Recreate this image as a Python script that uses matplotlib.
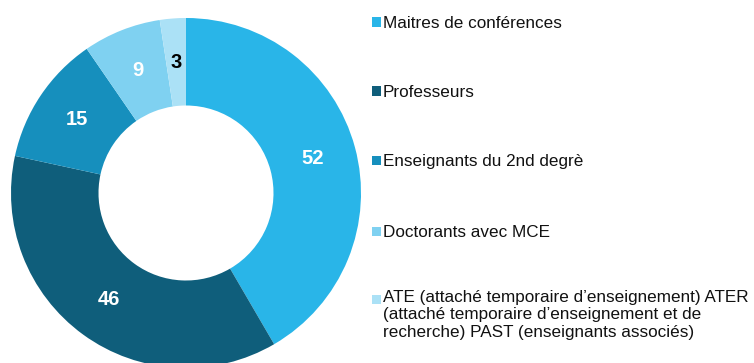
import numpy as np
import matplotlib.pyplot as plt
from matplotlib.patches import Rectangle

plt.rcParams['font.family'] = ['Liberation Sans', 'DejaVu Sans']

categories = [
    "Maitres de conférences",
    "Professeurs",
    "Enseignants du 2nd degrè",
    "Doctorants avec MCE",
    "ATE (attaché temporaire d\u2019enseignement) ATER\n(attaché temporaire d\u2019enseignement et de\nrecherche) PAST (enseignants associés)",
]
values = [52, 46, 15, 9, 3]
colors = ["#29b5e8", "#0f5e7b", "#168fbd", "#7fd1f1", "#abe1f6"]
label_colors = ["white", "white", "white", "white", "black"]

W, H = 754, 363
fig = plt.figure(figsize=(W / 100, H / 100), dpi=100)

# donut centred at (186, 193) px from top-left, outer radius 175 px
cx, cy, r = 186, 193, 175
ax = fig.add_axes([(cx - r) / W, (H - cy - r) / H, 2 * r / W, 2 * r / H])
ax.pie(values, colors=colors, startangle=90, counterclock=False,
       radius=1, wedgeprops=dict(width=0.5, linewidth=0))
ax.set_xlim(-1, 1)
ax.set_ylim(-1, 1)
ax.set_aspect('equal')
ax.axis('off')

# value labels in the middle of the ring
total = sum(values)
start = 90.0
for v, c in zip(values, label_colors):
    ang = np.deg2rad(start - v / total * 180)
    ax.text(0.75 * np.cos(ang), 0.75 * np.sin(ang), str(v), ha='center', va='center',
            fontsize=14.5, fontweight='bold', color=c)
    start -= v / total * 360

# legend drawn by hand on the right
legend_y = [22, 91, 160, 231, 299]
for name, col, y in zip(categories, colors, legend_y):
    fig.patches.append(Rectangle((372 / W, 1 - (y + 4.5) / H), 9 / W, 9 / H,
                                 transform=fig.transFigure, facecolor=col, edgecolor='none'))
    if '\n' in name:
        fig.text(383 / W, 1 - (y - 9) / H, name, ha='left', va='top',
                 fontsize=12.3, color='#111111', linespacing=1.2)
    else:
        fig.text(383 / W, 1 - y / H, name, ha='left', va='center_baseline',
                 fontsize=12.3, color='#111111')

fig.savefig("out.png", dpi=100)
